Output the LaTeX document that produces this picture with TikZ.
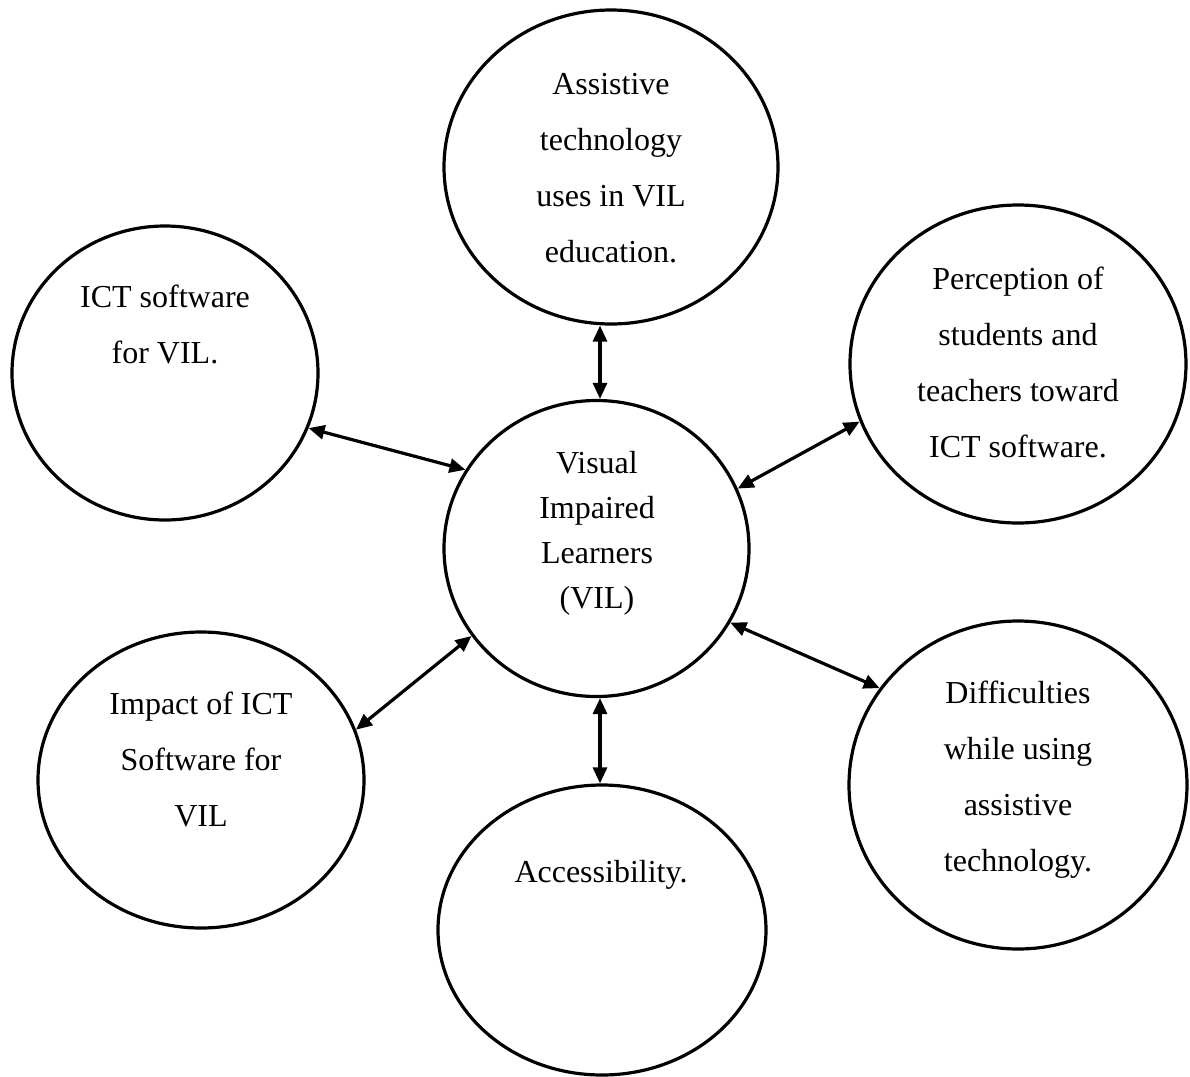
\documentclass[tikz,border=0pt]{standalone}
\usepackage{fontspec}
\setmainfont{Liberation Serif}
\usetikzlibrary{shapes.geometric,arrows.meta}
\begin{document}
\begin{tikzpicture}[x=0.5pt,y=-0.5pt,
  bubble/.style={draw=black,line width=1.6pt,ellipse,inner sep=0pt},
  txt/.style={align=center,font=\fontsize{16}{28}\selectfont,inner sep=0pt},
  txtc/.style={align=center,font=\fontsize{16}{22.5}\selectfont,inner sep=0pt},
  link/.style={line width=1.6pt,{Triangle[length=8pt,width=7pt]}-{Triangle[length=8pt,width=7pt]}}]
\useasboundingbox[fill=white] (0,0) rectangle (1190,1077);
% bubbles
\node[bubble,minimum width=152.5pt,minimum height=148pt] (C) at (596.5,548.5) {};
\node[bubble,minimum width=167pt,minimum height=157pt] (T) at (611,167) {};
\node[bubble,minimum width=153pt,minimum height=147pt] (ICT) at (165,373) {};
\node[bubble,minimum width=168pt,minimum height=159pt] (P) at (1018,364) {};
\node[bubble,minimum width=163pt,minimum height=148pt] (I) at (201,780) {};
\node[bubble,minimum width=164pt,minimum height=145pt] (A) at (602,930) {};
\node[bubble,minimum width=169pt,minimum height=164pt] (D) at (1018,785) {};
% texts
\node[txtc] (tC) at (597,533) {Visual\\Impaired\\Learners\\(VIL)};
\node[txt] (tT) at (611,168) {Assistive\\technology\\uses in VIL\\education.};
\node[txt] (tICT) at (165,324) {ICT software\\for VIL.};
\node[txt] (tP) at (1018,362) {Perception of\\students and\\teachers toward\\ICT software.};
\node[txt] (tI) at (201,759) {Impact of ICT\\Software for\\VIL};
\node[txt] (tA) at (601,875) {Accessibility.};
\node[txt] (tD) at (1018,780) {Difficulties\\while using\\assistive\\technology.};
% connectors
\coordinate (Cn) at ([xshift=1.75pt]C.north);
\coordinate (Cs) at ([xshift=1.75pt]C.south);
\draw[link] (T.south -| Cn) -- (Cn);
\draw[link] (Cs) -- (Cs |- A.north);
\draw[link] (ICT.-21) -- (C.149);
\draw[link] (P.200) -- (C.23);
\draw[link] (I.18) -- (C.215);
\draw[link] (D.145) -- (C.-29);
\end{tikzpicture}
\end{document}
